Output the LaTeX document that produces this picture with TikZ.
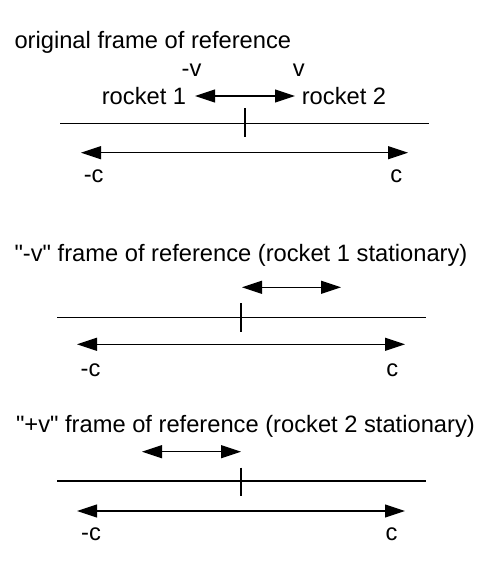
\documentclass[tikz,border=0pt]{standalone}
\usepackage{fontspec}
\setmainfont{Liberation Sans}[Ligatures=TeXOff]
\usetikzlibrary{arrows.meta}
\tikzset{lbl/.style={anchor=base, inner sep=0pt},
ttl/.style={anchor=base west, inner sep=0pt}}
\begin{document}
\begin{tikzpicture}[x=0.5pt, y=-0.5pt, font=\fontsize{11.85}{14}\selectfont, line width=0.55pt, line join=round, >={Triangle[length=10pt,width=6.5pt]}]
\useasboundingbox (0,0) rectangle (500,578);
% original frame
\path 	(60,123.5) coordinate (OL)
(429,123.5) coordinate (OR)
(245,108) coordinate (OT)
(245,137) coordinate (OB)
(81,152.7) coordinate (OCL)
(408,152.7) coordinate (OCR)
(195,96) coordinate (OVL)
(295,96) coordinate (OVR);
\node[ttl] (otitle) at (14,48) {original frame of reference};
\node[lbl] (ominv) at (191.5,76) {-v};
\node[lbl] (oplv) at (298.7,76) {v};
\node[lbl] (orock1) at (144,104) {rocket 1};
\node[lbl] (orock2) at (344,104) {rocket 2};
\node[lbl] (ominc) at (93.7,182.7) {-c};
\node[lbl] (oplc) at (396.2,182.7) {c};
\draw (OL)--(OR) (OT)--(OB);
\draw[<->] (OCL)--(OCR);
\draw[<->] (OVL)--(OVR);
% -v frame
\path 	(57,317.3) coordinate (AL)
(426,317.3) coordinate (AR)
(241,303) coordinate (AT)
(241,332) coordinate (AB)
(77,344.3) coordinate (ACL)
(405,344.3) coordinate (ACR)
(242,287.3) coordinate (AVL)
(341,287.3) coordinate (AVR);
\node[ttl] (atitle) at (14,261) {"-v" frame of reference (rocket 1 stationary)};
\node[lbl] (aminc) at (90.5,376.7) {-c};
\node[lbl] (aplc) at (392.2,376.7) {c};
\draw (AL)--(AR) (AT)--(AB);
\draw[<->] (ACL)--(ACR);
\draw[<->] (AVL)--(AVR);
% +v frame
\path 	(57,481) coordinate (BL)
(426,481) coordinate (BR)
(241,467.7) coordinate (BT)
(241,495.7) coordinate (BB)
(77,511) coordinate (BCL)
(405,511) coordinate (BCR)
(142,451.7) coordinate (BVL)
(241,451.7) coordinate (BVR);
\node[ttl] (btitle) at (15.5,432.3) {"+v" frame of reference (rocket 2 stationary)};
\node[lbl] (bminc) at (91,540) {-c};
\node[lbl] (bplc) at (391.5,540) {c};
\draw (BL)--(BR) (BT)--(BB);
\draw[<->] (BCL)--(BCR);
\draw[<->] (BVL)--(BVR);
\end{tikzpicture}
\end{document}
